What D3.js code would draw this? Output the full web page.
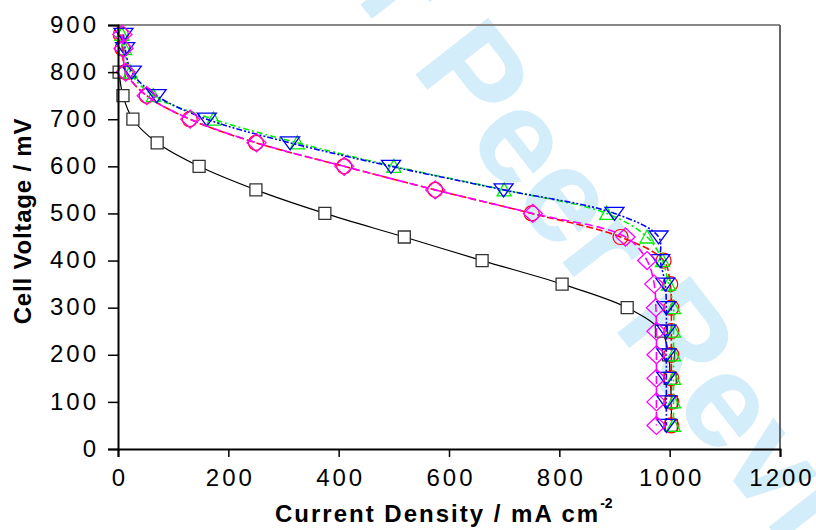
<!DOCTYPE html>
<html>
<head>
<meta charset="utf-8">
<script src="https://cdn.jsdelivr.net/npm/d3@7"></script>
<style>
  body { margin: 0; background: #fff; }
  svg { display: block; font-family: "Liberation Sans", Arial, sans-serif; }
</style>
</head>
<body>
<div id="chart"></div>
<script>
// polarisation curves, voltage levels shared by all five runs (mV)
const voltage = [880, 850, 800, 750, 700, 650, 600, 550, 500, 450, 400, 350, 300, 250, 200, 150, 100, 50];

// current density for each run (mA cm-2), null = no point
const curSquare  = [null, null, 2, 9, 27, 71, 147, 250, 375, 519, 660, 805, 923, 985, 998, 1001, 1003, 1003];
const curCircle  = [5, 8, 14, 52, 130, 250, 410, 575, 750, 911, 989, 1001, 1003, 1003, 1003, 1003, 1003, 1003];
const curUp      = [7, 12, 22, 64, 173, 325, 500, 700, 886, 959, 987, 998, 1007, 1007, 1007, 1007, 1007, 1007];
const curDown    = [10, 13, 25, 70, 161, 312, 495, 699, 900, 980, 983, 992, 994, 994, 994, 994, 994, 994];
const curDiamond = [8, 10, 14, 52, 131, 251, 410, 575, 752, 920, 959, 972, 975, 976, 976, 976, 976, 976];

// axis ticks
const xTicks = [0, 200, 400, 600, 800, 1000, 1200];
const yTicks = [0, 100, 200, 300, 400, 500, 600, 700, 800, 900];

function drawChart() {
    "use strict";
    const w = 816;
    const h = 530;
    const left = 118, right = 780, top = 25, bottom = 449;

    const svg = d3.select("#chart").append("svg")
        .attr("width", w)
        .attr("height", h);

    // watermark sits behind everything (runs off the page like the original)
    svg.append("text")
        .attr("transform", "translate(612,250) rotate(52)")
        .attr("text-anchor", "middle")
        .attr("dy", "0.35em")
        .style("font-size", "134px")
        .style("font-weight", "bold")
        .attr("fill", "#d3edfa")
        .text("For Peer Review");

    const x = d3.scaleLinear().domain([0, 1200]).range([left, right]);
    const y = d3.scaleLinear().domain([0, 900]).range([bottom, top]);

    // frame - top and right edges are grey
    svg.append("line").attr("x1", left).attr("x2", right).attr("y1", top).attr("y2", top)
        .attr("stroke", "#888").attr("stroke-width", 2);
    svg.append("line").attr("x1", right).attr("x2", right).attr("y1", top).attr("y2", bottom)
        .attr("stroke", "#666").attr("stroke-width", 2);

    // series table built from the arrays above
    const series = [
        {cur: curSquare,  color: "#000", dash: null,            width: 1.2, marker: "square"},
        {cur: curCircle,  color: "#ff0000", dash: "7,3",        width: 1.6, marker: "circle"},
        {cur: curUp,      color: "#00ee00", dash: "6,3,2,3",    width: 1.6, marker: "up"},
        {cur: curDown,    color: "#0000ff", dash: "6,2,2,2,2,2", width: 1.6, marker: "down"},
        {cur: curDiamond, color: "#ff00ff", dash: "8,4",        width: 1.6, marker: "diamond"}
    ];

    // marker outlines, centred on the point
    const shapes = {
        square: "M-6,-6H6V6H-6Z",
        up: "M0,-7L7,6H-7Z",
        down: "M-9.5,-6H9.5L0,7Z",
        diamond: "M0,-9L9.5,0L0,9L-9.5,0Z"
    };

    const line = d3.line()
        .x(d => x(d.c))
        .y(d => y(d.v))
        .curve(d3.curveCatmullRom.alpha(0.5));

    series.forEach(function (s) {
        let pts = [];
        s.cur.forEach(function (c, i) {
            if (c !== null) {
                pts.push({c: c, v: voltage[i]});
            }
        });

        const g = svg.append("g");
        g.append("path")
            .attr("d", line(pts))
            .attr("fill", "none")
            .attr("stroke", s.color)
            .attr("stroke-width", s.width)
            .attr("stroke-dasharray", s.dash);

        if (s.marker === "circle") {
            g.selectAll("circle").data(pts).enter().append("circle")
                .attr("cx", d => x(d.c))
                .attr("cy", d => y(d.v))
                .attr("r", 7.5)
                .attr("fill", "none")
                .attr("stroke", s.color)
                .attr("stroke-width", 1.2);
        } else {
            g.selectAll("path.m").data(pts).enter().append("path")
                .attr("class", "m")
                .attr("transform", d => `translate(${x(d.c)},${y(d.v)})`)
                .attr("d", shapes[s.marker])
                .attr("fill", s.marker === "square" ? "#fff" : "none")
                .attr("stroke", s.marker === "square" ? "#333" : s.color)
                .attr("stroke-width", 1.3);
        }
    });

    // axes
    const xAxis = d3.axisBottom(x).tickValues(xTicks).tickSize(8).tickPadding(12).tickFormat(d3.format("d"));
    const yAxis = d3.axisLeft(y).tickValues(yTicks).tickSize(10).tickPadding(12).tickFormat(d3.format("d"));

    const gx = svg.append("g").attr("transform", `translate(0,${bottom})`).call(xAxis);
    const gy = svg.append("g").attr("transform", `translate(${left},0)`).call(yAxis);

    [gx, gy].forEach(function (g) {
        g.select(".domain").attr("stroke", "#000").attr("stroke-width", 2);
        g.selectAll(".tick line").attr("stroke", "#000").attr("stroke-width", 1.5);
        g.selectAll(".tick text")
            .attr("fill", "#000")
            .style("font-size", "24px")
            .style("letter-spacing", "3px");
    });
    gx.selectAll(".tick text").attr("dx", "1.5");
    gy.selectAll(".tick text").attr("dx", "3").attr("dy", "0.3em");

    // axis titles
    svg.append("text")
        .attr("transform", "translate(31,221) rotate(-90)")
        .attr("text-anchor", "middle")
        .style("font-size", "24px")
        .style("font-weight", "bold")
        .style("letter-spacing", "0.8px")
        .text("Cell Voltage / mV");

    const xt = svg.append("text")
        .attr("x", 275)
        .attr("y", 522)
        .style("font-size", "24px")
        .style("font-weight", "bold")
        .style("letter-spacing", "2px");
    xt.append("tspan").text("Current Density / mA cm");
    xt.append("tspan")
        .attr("dy", -14)
        .style("font-size", "14px")
        .style("letter-spacing", "0px")
        .text("-2");
}

drawChart();
</script>
</body>
</html>
